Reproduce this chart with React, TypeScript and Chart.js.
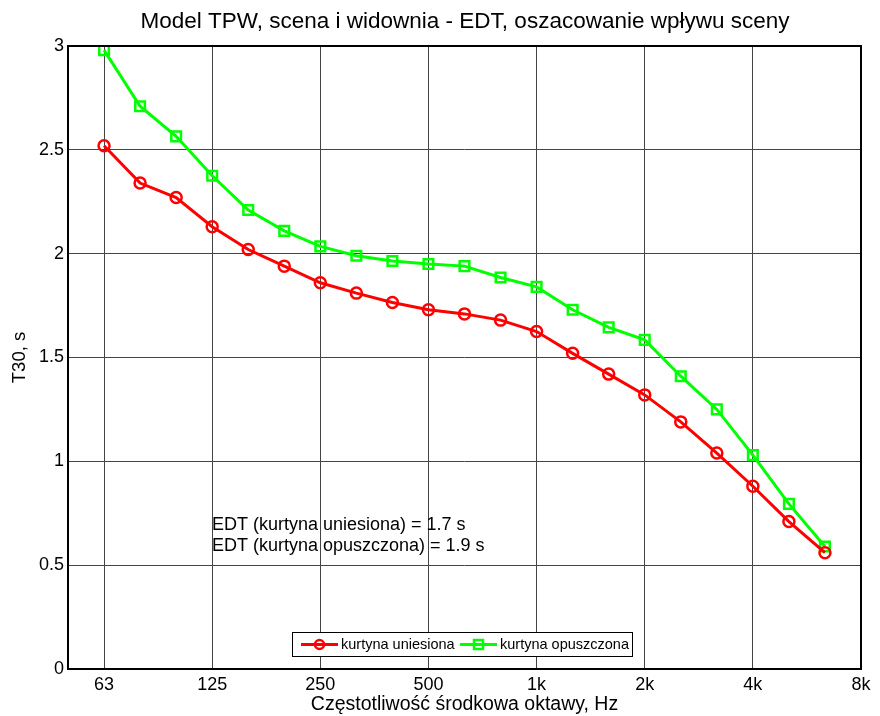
import React, { useEffect, useRef } from "react";
import { Chart, registerables } from "chart.js";

Chart.register(...registerables);

// Third-octave band centre frequencies (x categories)
const bands = ["63", "80", "100", "125", "160", "200", "250", "315", "400", "500", "630", "800", "1k", "1.25k", "1.6k", "2k", "2.5k", "3.15k", "4k", "5k", "6.3k"];
// Octave tick labels and their band index
const tickLabels = ["63", "125", "250", "500", "1k", "2k", "4k", "8k"];
const tickIndex = [0, 3, 6, 9, 12, 15, 18, 21];

const uniesiona = [2.52, 2.34, 2.27, 2.13, 2.02, 1.94, 1.86, 1.81, 1.765, 1.73, 1.71, 1.68, 1.625, 1.52, 1.42, 1.32, 1.19, 1.04, 0.88, 0.71, 0.56];
const opuszczona = [2.98, 2.71, 2.565, 2.375, 2.21, 2.11, 2.035, 1.99, 1.965, 1.95, 1.94, 1.885, 1.84, 1.73, 1.645, 1.585, 1.41, 1.25, 1.03, 0.795, 0.59];

const yTicks = [0, 0.5, 1, 1.5, 2, 2.5, 3];

const titleText = "Model TPW, scena i widownia - EDT, oszacowanie wpływu sceny";
const xTitle = "Częstotliwość środkowa oktawy, Hz";
const yTitle = "T30, s";
const notes = ["EDT (kurtyna uniesiona) = 1.7 s", "EDT (kurtyna opuszczona) = 1.9 s"];
const seriesNames = ["kurtyna uniesiona", "kurtyna opuszczona"];

const FONT = "'Liberation Sans', Arial, Helvetica, sans-serif";
const RED = "#ff0000";
const GREEN = "#00ff00";

const overlay = {
  id: "overlay",
  afterDraw(chart: any) {
    const { ctx, chartArea: a } = chart;
    ctx.save();
    // box
    ctx.strokeStyle = "#000";
    ctx.lineWidth = 2;
    ctx.strokeRect(a.left, a.top, a.right - a.left, a.bottom - a.top);
    // title
    ctx.fillStyle = "#000";
    ctx.font = `22.5px ${FONT}`;
    ctx.textAlign = "center";
    ctx.textBaseline = "middle";
    ctx.fillText(titleText, 465, 22);
    // notes
    ctx.font = `18px ${FONT}`;
    ctx.textAlign = "left";
    ctx.textBaseline = "alphabetic";
    ctx.fillText(notes[0], 212, 530);
    ctx.fillText(notes[1], 212, 551);
    // legend
    const lx = 292, ly = 632, lw = 340, lh = 24;
    ctx.fillStyle = "#fff";
    ctx.fillRect(lx, ly, lw, lh);
    ctx.strokeStyle = "#000";
    ctx.lineWidth = 1;
    ctx.strokeRect(lx + 0.5, ly + 0.5, lw, lh);
    const cy = ly + lh / 2 + 0.5;
    const drawEntry = (x0: number, color: string, kind: string, label: string) => {
      ctx.strokeStyle = color;
      ctx.lineWidth = 3;
      ctx.beginPath();
      ctx.moveTo(x0, cy);
      ctx.lineTo(x0 + 37, cy);
      ctx.stroke();
      ctx.lineWidth = 2.5;
      ctx.beginPath();
      if (kind === "circle") {
        ctx.arc(x0 + 18.5, cy, 4.5, 0, Math.PI * 2);
      } else {
        ctx.rect(x0 + 18.5 - 4.5, cy - 4.5, 9, 9);
      }
      ctx.stroke();
      ctx.fillStyle = "#000";
      ctx.font = `14.5px ${FONT}`;
      ctx.textAlign = "left";
      ctx.textBaseline = "middle";
      ctx.fillText(label, x0 + 40, cy);
    };
    drawEntry(301, RED, "circle", seriesNames[0]);
    drawEntry(460, GREEN, "rect", seriesNames[1]);
    ctx.restore();
  },
};

export default function App() {
  const ref = useRef<HTMLCanvasElement | null>(null);
  useEffect(() => {
    if (!ref.current) return;
    const chart = new Chart(ref.current, {
      type: "line",
      data: {
        labels: bands,
        datasets: [
          {
            label: seriesNames[0],
            data: uniesiona.map((v, i) => ({ x: i, y: v })),
            borderColor: RED,
            backgroundColor: "rgba(0,0,0,0)",
            borderWidth: 3,
            pointStyle: "circle",
            pointRadius: 5.5,
            pointBorderWidth: 2.5,
            pointBorderColor: RED,
            pointBackgroundColor: "rgba(0,0,0,0)",
          },
          {
            label: seriesNames[1],
            data: opuszczona.map((v, i) => ({ x: i, y: v })),
            borderColor: GREEN,
            backgroundColor: "rgba(0,0,0,0)",
            borderWidth: 3,
            pointStyle: "rect",
            pointRadius: 6.8,
            pointBorderWidth: 2.5,
            pointBorderColor: GREEN,
            pointBackgroundColor: "rgba(0,0,0,0)",
          },
        ],
      },
      options: {
        animation: false,
        responsive: false,
        devicePixelRatio: 1,
        layout: { padding: { left: 0, top: 46, right: 19, bottom: 0 } },
        plugins: { legend: { display: false }, title: { display: false }, tooltip: { enabled: false } },
        scales: {
          x: {
            type: "linear",
            min: -1,
            max: 21,
            afterBuildTicks: (s: any) => {
              s.ticks = tickIndex.map((v) => ({ value: v }));
            },
            afterFit: (s: any) => {
              s.height = 47;
            },
            ticks: {
              autoSkip: false,
              maxRotation: 0,
              padding: 5,
              color: "#000",
              font: { family: FONT, size: 18 },
              callback: (v: any) => {
                const k = tickIndex.indexOf(Number(v));
                return k >= 0 ? tickLabels[k] : "";
              },
            },
            grid: { color: "#444", lineWidth: 1, drawTicks: false },
            border: { display: false },
            title: {
              display: true,
              text: xTitle,
              color: "#000",
              font: { family: FONT, size: 19.5 },
              padding: { top: 0, bottom: 0 },
            },
          },
          y: {
            type: "linear",
            min: 0,
            max: 3,
            afterBuildTicks: (s: any) => {
              s.ticks = yTicks.map((v) => ({ value: v }));
            },
            afterFit: (s: any) => {
              s.width = 68;
            },
            ticks: {
              padding: 4,
              color: "#000",
              font: { family: FONT, size: 18 },
              callback: (v: any) => String(v),
            },
            grid: { color: "#444", lineWidth: 1, drawTicks: false },
            border: { display: false },
            title: {
              display: true,
              text: yTitle,
              color: "#000",
              font: { family: FONT, size: 18.5 },
              padding: { top: 9, bottom: 0 },
            },
          },
        },
      },
      plugins: [overlay],
    } as any);
    return () => chart.destroy();
  }, []);
  return (
    <div style={{ position: "fixed", left: 0, top: 0, width: 880, height: 716, background: "#fff" }}>
      <canvas ref={ref} width={880} height={716} style={{ width: 880, height: 716, display: "block" }} />
    </div>
  );
}
